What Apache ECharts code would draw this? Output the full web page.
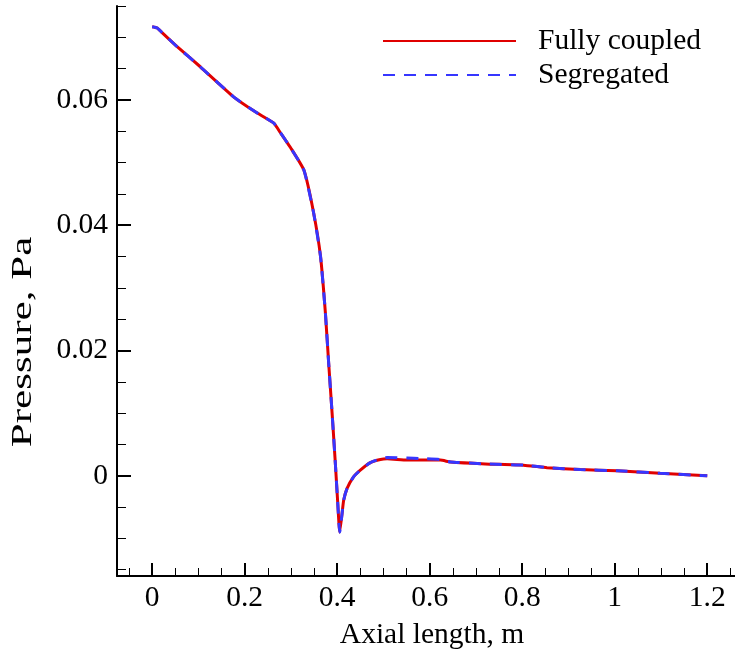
<!DOCTYPE html>
<html>
<head>
<meta charset="utf-8">
<script src="https://cdn.jsdelivr.net/npm/echarts@6/dist/echarts.min.js"></script>
<style>html,body{margin:0;padding:0;background:#fff;}#chart{width:735px;height:650px;}</style>
</head>
<body>
<div id="chart"></div>
<script>
const seriesNames = ['Fully coupled', 'Segregated'];
const xValues = [0, 0.011, 0.022, 0.054, 0.104, 0.176, 0.223, 0.263, 0.277, 0.299, 0.328, 0.349, 0.364, 0.3745, 0.3816, 0.389, 0.396, 0.4015, 0.4054, 0.4106, 0.414, 0.4214, 0.435, 0.45, 0.4716, 0.4935, 0.508, 0.551, 0.58, 0.623, 0.645, 0.72, 0.803, 0.8536, 0.9255, 1.005, 1.098, 1.2];
const fullyCoupled = [0.0717, 0.0715, 0.0707, 0.0685, 0.0653, 0.0605, 0.0581, 0.0563, 0.0548, 0.0524, 0.0488, 0.0420, 0.0350, 0.0260, 0.0180, 0.0100, 0.0020, -0.0047, -0.0090, -0.0060, -0.0039, -0.0020, -0.0002, 0.0009, 0.0021, 0.0026, 0.0027, 0.0025, 0.0025, 0.0025, 0.0022, 0.0019, 0.0017, 0.0013, 0.0010, 0.0008, 0.0004, 0.0000];
const segregated = [0.0717, 0.0715, 0.0707, 0.0685, 0.0653, 0.0605, 0.0581, 0.0563, 0.0548, 0.0524, 0.0488, 0.0420, 0.0350, 0.0260, 0.0180, 0.0100, 0.0020, -0.0047, -0.0090, -0.0060, -0.0039, -0.0020, -0.0002, 0.0009, 0.0021, 0.0027, 0.0029, 0.00285, 0.00275, 0.0026, 0.0022, 0.0019, 0.0017, 0.0013, 0.0010, 0.0008, 0.0004, 0.0000];
const xMajorTicks = [0, 0.2, 0.4, 0.6, 0.8, 1, 1.2];
const xMinorTicks = [-0.05, 0.05, 0.1, 0.15, 0.25, 0.3, 0.35, 0.45, 0.5, 0.55, 0.65, 0.7, 0.75, 0.85, 0.9, 0.95, 1.05, 1.1, 1.15, 1.25];
const yMajorTicks = [0, 0.02, 0.04, 0.06];
const yMinorTicks = [-0.015, -0.01, -0.005, 0.005, 0.01, 0.015, 0.025, 0.03, 0.035, 0.045, 0.05, 0.055, 0.065, 0.07, 0.075];
const xTitle = 'Axial length, m';
const yTitle = 'Pressure, Pa';

const FONT = "'Liberation Serif', 'Times New Roman', serif";
const FS = 29.5;
const X_MIN = -0.076, X_MAX = 1.26, Y_MIN = -0.016, Y_MAX = 0.075;

const pairs = (ys) => xValues.map((x, i) => [x, ys[i]]);

const chart = echarts.init(document.getElementById('chart'), null, {renderer: 'canvas'});
chart.setOption({
  animation: false,
  backgroundColor: '#ffffff',
  grid: {left: 117, right: 0, top: 6, bottom: 74, containLabel: false, outerBoundsMode: 'none'},
  graphic: [{
    type: 'text', x: 23, y: 342, rotation: Math.PI / 2, scaleX: 1.46, scaleY: 1,
    style: {text: yTitle, font: FS + 'px ' + FONT, fill: '#000', align: 'center', verticalAlign: 'middle'}
  }],
  legend: {
    orient: 'vertical', left: 377, top: 21, itemWidth: 133, itemHeight: 14, itemGap: 4,
    itemStyle: {opacity: 0, borderWidth: 0},
    textStyle: {fontFamily: FONT, fontSize: FS, color: '#000', padding: [0, 0, 0, 17]},
    data: seriesNames
  },
  xAxis: [{
    type: 'value', min: X_MIN, max: X_MAX, position: 'bottom',
    name: xTitle, nameLocation: 'middle', nameGap: 44,
    nameTextStyle: {fontFamily: FONT, fontSize: FS, color: '#000', padding: [0, 0, 0, 12]},
    axisLine: {onZero: false, lineStyle: {color: '#000', width: 2}},
    axisTick: {inside: true, length: 13, lineStyle: {color: '#000', width: 2}, customValues: xMajorTicks},
    axisLabel: {customValues: xMajorTicks, fontFamily: FONT, fontSize: FS, color: '#000', margin: 7},
    splitLine: {show: false}
  }, {
    type: 'value', min: X_MIN, max: X_MAX, position: 'bottom',
    axisLine: {show: false, onZero: false},
    axisTick: {inside: true, length: 8, lineStyle: {color: '#000', width: 1}, customValues: xMinorTicks},
    axisLabel: {show: false},
    splitLine: {show: false}
  }],
  yAxis: [{
    type: 'value', min: Y_MIN, max: Y_MAX, position: 'left',
    axisLine: {onZero: false, lineStyle: {color: '#000', width: 2}},
    axisTick: {inside: true, length: 14, lineStyle: {color: '#000', width: 2}, customValues: yMajorTicks},
    axisLabel: {customValues: yMajorTicks, fontFamily: FONT, fontSize: FS, color: '#000', margin: 9},
    splitLine: {show: false}
  }, {
    type: 'value', min: Y_MIN, max: Y_MAX, position: 'left',
    axisLine: {show: false, onZero: false},
    axisTick: {inside: true, length: 9, lineStyle: {color: '#000', width: 1}, customValues: yMinorTicks},
    axisLabel: {show: false},
    splitLine: {show: false}
  }],
  series: [{
    name: seriesNames[0], type: 'line', xAxisIndex: 0, yAxisIndex: 0,
    data: pairs(fullyCoupled), symbol: 'none', smooth: 0.15,
    lineStyle: {color: '#e00000', width: 3}, itemStyle: {color: '#e00000'}
  }, {
    name: seriesNames[1], type: 'line', xAxisIndex: 0, yAxisIndex: 0,
    data: pairs(segregated), symbol: 'none', smooth: 0.15,
    lineStyle: {color: '#3636ff', width: 3, type: [12, 9]}, itemStyle: {color: '#3636ff'}
  }]
});
</script>
</body>
</html>
